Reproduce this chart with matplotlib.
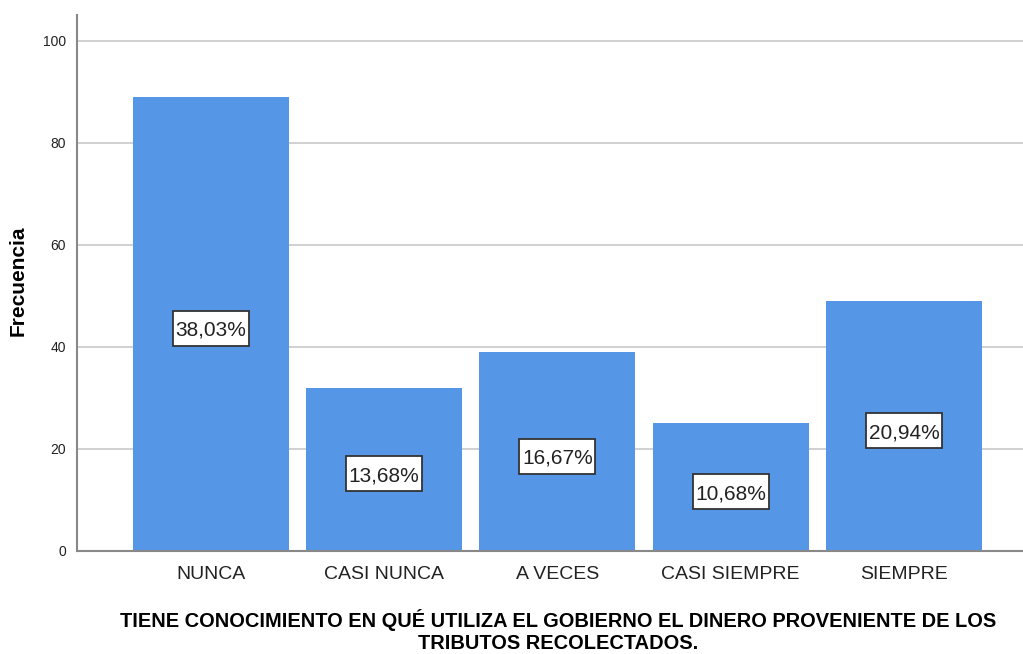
import matplotlib.pyplot as plt
import matplotlib.transforms as mtransforms
from matplotlib.patches import Rectangle
import numpy as np

plt.rcParams['font.family'] = ['Liberation Sans', 'DejaVu Sans']

# Data
categories = ['NUNCA', 'CASI NUNCA', 'A VECES', 'CASI SIEMPRE', 'SIEMPRE']
counts = [89, 32, 39, 25, 49]
pct_labels = ['38,03%', '13,68%', '16,67%', '10,68%', '20,94%']
y_ticks = [0, 20, 40, 60, 80, 100]

bar_color = '#5596E6'

fig = plt.figure(figsize=(10.23, 6.54), dpi=100)
ax = fig.add_axes([77 / 1023, 103 / 654, 946 / 1023, 536 / 654])

x = np.arange(len(categories))
ax.bar(x, counts, width=0.9, color=bar_color, zorder=2)

# percentage boxes near the middle of each bar (box size fixed in inches)
bw, bh = 0.76, 0.35
for xi, c, lab in zip(x, counts, pct_labels):
    yc = c / 2 - 0.9
    tr = fig.dpi_scale_trans + mtransforms.ScaledTranslation(xi, yc, ax.transData)
    ax.add_patch(Rectangle((-bw / 2, -bh / 2), bw, bh, transform=tr,
                           fc='white', ec='#333333', lw=1.3, zorder=3))
    ax.text(xi, yc, lab, ha='center', va='center_baseline', fontsize=15,
            color='#222222', zorder=4)

ax.set_xlim(-0.773, 4.687)
ax.set_ylim(0, 105)
ax.set_yticks(y_ticks)
ax.set_xticks(x)
ax.set_xticklabels(categories, fontsize=14, color='#222222')
ax.tick_params(axis='y', labelsize=10, colors='#222222', length=0, pad=8)
ax.tick_params(axis='x', length=0, pad=11)

ax.yaxis.grid(True, color='#c8c8c8', lw=1.2, zorder=0)
ax.set_axisbelow(True)

for side in ['top', 'right']:
    ax.spines[side].set_visible(False)
for side in ['left', 'bottom']:
    ax.spines[side].set_color('#888888')
    ax.spines[side].set_linewidth(1.5)

fig.text(18 / 1023, 1 - 281 / 654, 'Frecuencia', rotation=90, ha='center', va='center',
         fontsize=15, fontweight='bold', color='black')

fig.text(558 / 1023, 1 - 631 / 654,
         'TIENE CONOCIMIENTO EN QUÉ UTILIZA EL GOBIERNO EL DINERO PROVENIENTE DE LOS\nTRIBUTOS RECOLECTADOS.',
         ha='center', va='center', fontsize=14.4, fontweight='bold', color='black',
         linespacing=1.15)

fig.savefig('out.png', dpi=100)
